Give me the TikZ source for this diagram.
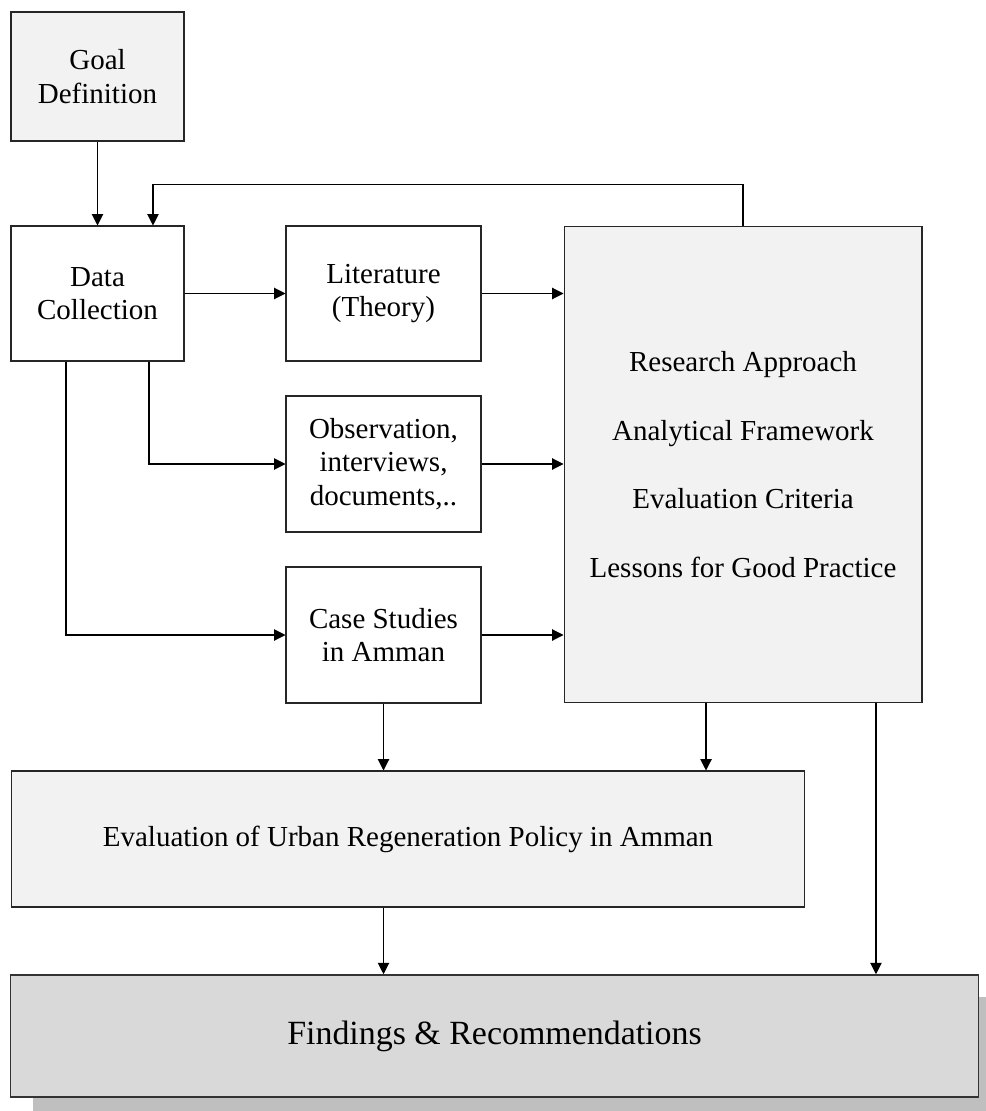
\documentclass[tikz,border=0pt]{standalone}
\usepackage{fontspec}
\setmainfont{Liberation Serif}
\usepackage{tikz}
\usetikzlibrary{arrows.meta,shadows}
\definecolor{boxgray}{HTML}{F2F2F2}
\definecolor{findgray}{HTML}{D9D9D9}
\definecolor{shadowgray}{HTML}{BFBFBF}
\begin{document}
\begin{tikzpicture}[x=0.02cm,y=-0.02cm]
\tikzstyle{box}=[draw=black!85,line width=0.6pt,inner sep=0pt,align=center,font=\fontsize{16.5}{19}\selectfont]
\tikzstyle{graybox}=[box,fill=boxgray]
\tikzstyle{arr}=[draw=black,line width=0.6pt,-{Triangle[length=6.5pt,width=6.5pt]}]
\useasboundingbox (0,0) rectangle (985,1111);
\node [graybox,minimum width=3.46cm,minimum height=2.58cm] (goal) at (97.5,76.5) {Goal\\Definition};
\node [box,minimum width=3.46cm,minimum height=2.7cm] (data) at (97.5,293.5) {Data\\Collection};
\node [box,minimum width=3.9cm,minimum height=2.7cm] (lit) at (383.5,293.5) {Literature\\(Theory)};
\node [box,minimum width=3.9cm,minimum height=2.72cm] (obs) at (383.5,464) {Observation,\\interviews,\\documents,..};
\node [box,minimum width=3.9cm,minimum height=2.72cm] (case) at (383.5,635) {Case Studies\\in Amman};
\node [graybox,minimum width=7.16cm,minimum height=9.54cm] (research) at (743,464.5) {Research Approach\\[20pt]Analytical Framework\\[20pt]Evaluation Criteria\\[20pt]Lessons for Good Practice};
\node [graybox,minimum width=15.88cm,minimum height=2.72cm] (eval) at (408,839) {Evaluation of Urban Regeneration Policy in Amman};
\node [box,fill=findgray,line width=0.9pt,draw=black!80,minimum width=19.36cm,minimum height=2.44cm,font=\fontsize{19.3}{22}\selectfont,
  general shadow={fill=shadowgray,shadow xshift=0.44cm,shadow yshift=-0.44cm}] (find) at (494.5,1036) {Findings \& Recommendations};
\draw [arr] (goal) -- (data);
\draw [arr] (research.north) -- ++(0,-41) -| ([xshift=1.11cm]data.north);
\draw [arr] (data.east) -- (lit.west);
\draw [arr] (lit.east) -- (lit.east -| research.west);
\draw [arr] ([xshift=1.03cm]data.south) |- (obs.west);
\draw [arr] (obs.east) -- (obs.east -| research.west);
\draw [arr] ([xshift=-0.63cm]data.south) |- (case.west);
\draw [arr] (case.east) -- (case.east -| research.west);
\draw [arr] (case.south) -- (case.south |- eval.north);
\draw [arr] ([xshift=-0.74cm]research.south) -- ([xshift=-0.74cm]research.south |- eval.north);
\draw [arr] ([xshift=2.66cm]research.south) -- ([xshift=2.66cm]research.south |- find.north);
\draw [arr] (case.south |- eval.south) -- (case.south |- find.north);
\end{tikzpicture}
\end{document}
